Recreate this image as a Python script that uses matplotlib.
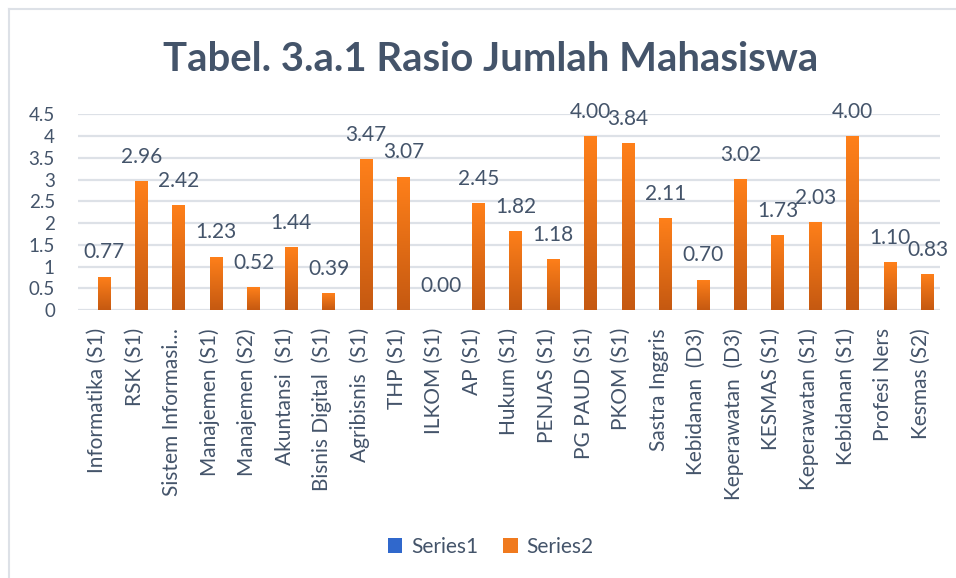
import matplotlib.pyplot as plt
import numpy as np
from matplotlib.patches import Patch
from matplotlib.lines import Line2D

plt.rcParams['font.family'] = ['Lato', 'DejaVu Sans']

# Data
categories = ['Informatika (S1)', 'RSK (S1)', 'Sistem Informasi…', 'Manajemen (S1)',
              'Manajemen (S2)', 'Akuntansi  (S1)', 'Bisnis Digital  (S1)', 'Agribisnis  (S1)',
              'THP (S1)', 'ILKOM (S1)', 'AP (S1)', 'Hukum (S1)', 'PENJAS (S1)',
              'PG PAUD (S1)', 'PKOM (S1)', 'Sastra Inggris', 'Kebidanan  (D3)',
              'Keperawatan  (D3)', 'KESMAS (S1)', 'Keperawatan (S1)', 'Kebidanan (S1)',
              'Profesi Ners', 'Kesmas (S2)']
series1 = [0, 0, 0, 0, 0, 0, 0, 0, 0, 0, 0, 0, 0, 0, 0, 0, 0, 0, 0, 0, 0, 0, 0]
series2 = [0.77, 2.96, 2.42, 1.23, 0.52, 1.44, 0.39, 3.47, 3.07, 0.00, 2.45, 1.82,
           1.18, 4.00, 3.84, 2.11, 0.70, 3.02, 1.73, 2.03, 4.00, 1.10, 0.83]
yticks = [0, 0.5, 1, 1.5, 2, 2.5, 3, 3.5, 4, 4.5]

text_color = '#44546A'
grid_color = '#DDE1E7'

fig = plt.figure(figsize=(9.56, 5.78), dpi=100)
ax = fig.add_axes([0.0821, 0.4637, 0.9007, 0.3385])

x = np.arange(len(categories))
w = 0.34
off = 0.18

ax.bar(x - off, series1, width=w, color='#3A6FD0', zorder=3)
bars = ax.bar(x + off, series2, width=w, color='none', edgecolor='none', zorder=3)

# vertical gradient for the orange bars
grad = np.linspace(0, 1, 256).reshape(-1, 1)
top = np.array([255, 128, 26]) / 255
bot = np.array([197, 89, 17]) / 255
img = top[None, None, :] * (1 - grad[:, :, None]) + bot[None, None, :] * grad[:, :, None]
for b in bars:
    h = b.get_height()
    if h <= 0:
        continue
    x0 = b.get_x()
    im = ax.imshow(img, extent=[x0, x0 + b.get_width(), 0, h], aspect='auto',
                   origin='upper', zorder=3, interpolation='bilinear')
    im.set_clip_path(b)

# data labels
for xi, v in zip(x, series2):
    ax.annotate(f'{v:.2f}', xy=(xi + off, v), xytext=(0, 13), textcoords='offset points',
                ha='center', va='baseline', fontsize=15, color=text_color, zorder=5)

ax.set_xlim(-0.5, len(categories) - 0.5)
ax.set_ylim(0, 4.5)
ax.set_yticks(yticks)
ax.set_yticklabels([f'{t:g}' for t in yticks])
ax.set_xticks(x)
ax.set_xticklabels(categories, rotation=90, ha='center', va='top')
ax.tick_params(axis='y', length=0, pad=17, labelsize=13.5, labelcolor=text_color)
ax.tick_params(axis='x', length=0, pad=13, labelsize=15, labelcolor=text_color)
ax.grid(axis='y', color=grid_color, linewidth=1.6, zorder=0)
ax.set_axisbelow(True)
for s in ax.spines.values():
    s.set_visible(False)

fig.text(0.513, 0.897, 'Tabel. 3.a.1 Rasio Jumlah Mahasiswa', ha='center', va='center',
         fontsize=28.8, fontweight='bold', color=text_color)

handles = [Patch(facecolor='#3068CC', label='Series1'),
           Patch(facecolor='#F07A1E', label='Series2')]
fig.legend(handles=handles, loc='center', bbox_to_anchor=(0.513, 0.054), ncol=2,
           frameon=False, fontsize=15, labelcolor=text_color, handlelength=0.7,
           handleheight=0.7, handletextpad=0.4, columnspacing=1.2)

# outer chart border (left and top edges)
fig.add_artist(Line2D([0.0094, 0.0094], [0.0, 0.984], color=grid_color, lw=1.5,
                      transform=fig.transFigure))
fig.add_artist(Line2D([0.0094, 1.0], [0.984, 0.984], color=grid_color, lw=1.5,
                      transform=fig.transFigure))

fig.savefig('out.png', dpi=100)
